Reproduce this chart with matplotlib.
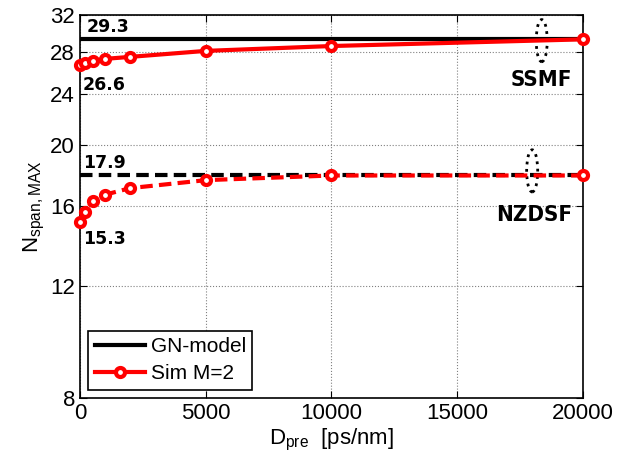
import matplotlib
matplotlib.use("Agg")
import matplotlib.pyplot as plt
from matplotlib.patches import Ellipse
from matplotlib.ticker import FixedLocator, FixedFormatter, NullLocator

plt.rcParams['font.family'] = ['Liberation Sans', 'DejaVu Sans']

# data
d_pre = [0, 200, 500, 1000, 2000, 5000, 10000, 20000]
ssmf_sim = [26.7, 26.9, 27.1, 27.3, 27.5, 28.1, 28.6, 29.3]
nzdsf_sim = [15.1, 15.7, 16.3, 16.7, 17.1, 17.6, 17.9, 17.9]
ssmf_gn = 29.3
nzdsf_gn = 17.9
yticks = [8, 12, 16, 20, 24, 28, 32]
xticks = [0, 5000, 10000, 15000, 20000]

fig = plt.figure(figsize=(6.19, 4.67), dpi=100)
ax = fig.add_axes([0.1292, 0.1478, 0.8126, 0.8201])

ax.plot([0, 20000], [ssmf_gn, ssmf_gn], color='black', lw=3, label='GN-model')
ax.plot([0, 20000], [nzdsf_gn, nzdsf_gn], color='black', lw=3, ls=(0, (3, 1.5)))
mk = dict(marker='o', ms=6.5, mfc='white', mec='red', mew=3, clip_on=False, zorder=5)
ax.plot(d_pre, ssmf_sim, color='red', lw=3, label='Sim M=2', **mk)
ax.plot(d_pre, nzdsf_sim, color='red', lw=3, ls=(0, (3, 1.5)), **mk)

ax.set_yscale('log')
ax.set_ylim(8, 32)
ax.set_xlim(0, 20000)
ax.yaxis.set_major_locator(FixedLocator(yticks))
ax.yaxis.set_major_formatter(FixedFormatter([str(t) for t in yticks]))
ax.yaxis.set_minor_locator(NullLocator())
ax.set_xticks(xticks)
ax.set_xticklabels([str(t) for t in xticks])
ax.tick_params(direction='in', labelsize=16, right=True, top=True, length=5)
ax.grid(True, color='gray', ls=':', lw=0.8)
for s in ax.spines.values():
    s.set_linewidth(1.2)

ax.set_xlabel(r'$\mathregular{D_{pre}}$  [ps/nm]', fontsize=16, labelpad=2)
ax.set_ylabel(r'$\mathregular{N_{span,MAX}}$', fontsize=16, labelpad=2)

bold = dict(fontsize=12.5, fontweight='bold', family='DejaVu Sans')
ax.text(280, 30.6, '29.3', va='center', ha='left', **bold)
ax.text(120, 24.8, '26.6', va='center', ha='left', **bold)
ax.text(120, 18.7, '17.9', va='center', ha='left', **bold)
ax.text(120, 14.2, '15.3', va='center', ha='left', **bold)
big = dict(fontsize=16, fontweight='bold', family='DejaVu Sans', fontstretch='condensed')
ax.text(19560, 25.3, 'SSMF', va='center', ha='right', **big)
ax.text(19560, 15.5, 'NZDSF', va='center', ha='right', **big)

for cx, cy in [(0.918, 0.933), (0.899, 0.593)]:
    ax.add_patch(Ellipse((cx, cy), 0.022, 0.11, transform=ax.transAxes, fill=False,
                         ls=':', lw=2, ec='black'))

leg = ax.legend(loc='lower left', fontsize=15, handlelength=2.4, borderaxespad=0.4,
                fancybox=False, edgecolor='black', framealpha=1, borderpad=0.3,
                handletextpad=0.3, labelspacing=0.4)
leg.get_frame().set_linewidth(1.2)

fig.savefig('out.png', dpi=100)
